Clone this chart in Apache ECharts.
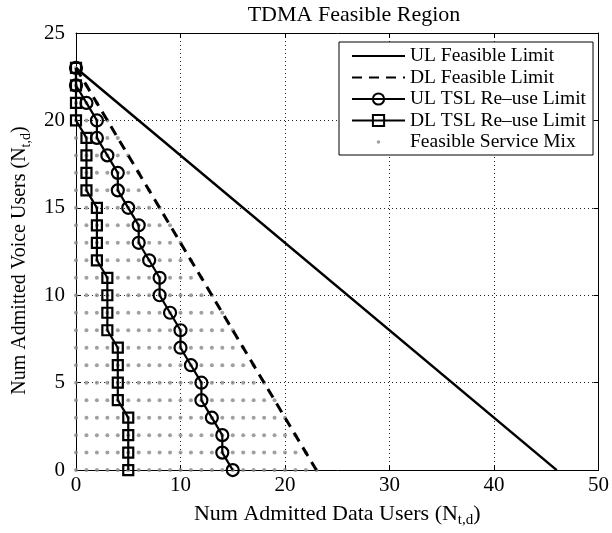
<!DOCTYPE html>
<html>
<head>
<meta charset="utf-8">
<script src="https://cdn.jsdelivr.net/npm/echarts@6/dist/echarts.min.js"></script>
<style>
  html, body { margin: 0; padding: 0; background: #fff; }
  #chart { width: 612px; height: 533px; }
</style>
</head>
<body>
<div id="chart"></div>
<script>
// Voice-user rows, top to bottom
const voiceUsers = [23, 22, 21, 20, 19, 18, 17, 16, 15, 14, 13, 12, 11, 10, 9, 8, 7, 6, 5, 4, 3, 2, 1, 0];
// Max data users per row under the UL / DL time-slot re-use limits
const ulTslDataUsers = [0, 0, 1, 2, 2, 3, 4, 4, 5, 6, 6, 7, 8, 8, 9, 10, 10, 11, 12, 12, 13, 14, 14, 15];
const dlTslDataUsers = [0, 0, 0, 0, 1, 1, 1, 1, 2, 2, 2, 2, 3, 3, 3, 3, 4, 4, 4, 4, 5, 5, 5, 5];
// Straight feasibility limits (end points)
const ulLimitData = [0, 46];
const ulLimitVoice = [23, 0];
const dlLimitData = [0, 23];
const dlLimitVoice = [23, 0];
// Feasible service mix: largest data-user count per voice row (voice = 0..23)
const mixVoiceRows = [0, 1, 2, 3, 4, 5, 6, 7, 8, 9, 10, 11, 12, 13, 14, 15, 16, 17, 18, 19, 20, 21, 22, 23];
const mixRowMaxData = [23, 22, 21, 20, 19, 18, 17, 16, 15, 14, 13, 12, 11, 10, 9, 8, 7, 6, 5, 4, 3, 2, 1, 0];
// Axis ticks
const xTicks = { min: 0, max: 50, step: 10 };
const yTicks = { min: 0, max: 25, step: 5 };

const FONT = "'Liberation Serif', 'Times New Roman', serif";

const pairs = (xs, ys) => xs.map((x, i) => [x, ys[i]]);
const mixPoints = [];
mixVoiceRows.forEach((v, i) => {
  for (let d = 0; d <= mixRowMaxData[i]; d++) mixPoints.push([d, v]);
});

const dotIcon = 'image://data:image/svg+xml;charset=utf-8,' + encodeURIComponent(
  '<svg xmlns="http://www.w3.org/2000/svg" width="53" height="14"><circle cx="26.5" cy="7" r="1.8" fill="#8a8a8a"/></svg>'
);

const richFor = (size) => ({
  t: { fontFamily: FONT, fontSize: size, color: '#000', verticalAlign: 'top', lineHeight: size + 3 },
  s: { fontFamily: FONT, fontSize: Math.round(size * 0.68), color: '#000', verticalAlign: 'bottom',
       lineHeight: Math.round(size * 0.72), padding: [Math.round(size * 0.55), 0, 0, 0] }
});

const gridLine = { show: true, lineStyle: { color: '#222', type: [1, 3], width: 1 } };
const boxLine = { show: true, onZero: false, lineStyle: { color: '#000', width: 1 } };
const tick = { show: true, inside: true, length: 5, lineStyle: { color: '#000', width: 1 } };
// plain line in the legend, no marker
const noMarker = { color: 'rgba(0,0,0,0)', borderWidth: 0 };

const chart = echarts.init(document.getElementById('chart'), null, { renderer: 'canvas' });
chart.setOption({
  animation: false,
  backgroundColor: '#fff',
  title: {
    text: 'TDMA Feasible Region',
    left: 349, top: -1, textAlign: 'center',
    textStyle: { fontFamily: FONT, fontSize: 22, fontWeight: 'normal', color: '#000' }
  },
  grid: { left: 76, right: 10, top: 33, bottom: 62, containLabel: false },
  xAxis: [{
    type: 'value', position: 'bottom',
    min: xTicks.min, max: xTicks.max, interval: xTicks.step,
    axisLine: boxLine, axisTick: tick, splitLine: gridLine,
    axisLabel: { color: '#000', fontFamily: FONT, fontSize: 21, margin: 5 },
    name: '{t|Num Admitted Data Users (N}{s|t,d}{t|)}',
    nameLocation: 'middle', nameGap: 31,
    nameTextStyle: { rich: richFor(22) }
  }, {
    type: 'value', position: 'top',
    min: xTicks.min, max: xTicks.max, interval: xTicks.step,
    axisLine: boxLine, axisTick: tick, splitLine: { show: false },
    axisLabel: { show: false }
  }],
  yAxis: [{
    type: 'value', position: 'left',
    min: yTicks.min, max: yTicks.max, interval: yTicks.step,
    axisLine: boxLine, axisTick: tick, splitLine: gridLine,
    axisLabel: { color: '#000', fontFamily: FONT, fontSize: 21, margin: 11 },
    name: '{t|Num Admitted Voice Users (N}{s|t,d}{t|)}',
    nameLocation: 'middle', nameGap: 39,
    nameTextStyle: { rich: richFor(20), padding: [0, 18, 0, 0] }
  }, {
    type: 'value', position: 'right',
    min: yTicks.min, max: yTicks.max, interval: yTicks.step,
    axisLine: boxLine, axisTick: tick, splitLine: { show: false },
    axisLabel: { show: false }
  }],
  legend: {
    orient: 'vertical', left: 339, top: 42,
    padding: [4, 7, 3, 12], itemGap: 1.5, itemWidth: 53, itemHeight: 14,
    backgroundColor: '#fff', borderColor: '#000', borderWidth: 1, borderRadius: 0,
    textStyle: { fontFamily: FONT, fontSize: 19.5, color: '#000' },
    data: [
      { name: 'UL Feasible Limit', itemStyle: noMarker },
      { name: 'DL Feasible Limit', itemStyle: noMarker },
      { name: 'UL TSL Re\u2013use Limit' },
      { name: 'DL TSL Re\u2013use Limit' },
      { name: 'Feasible Service Mix', icon: dotIcon }
    ]
  },
  series: [
    {
      name: 'Feasible Service Mix', type: 'scatter', z: 1,
      data: mixPoints, symbol: 'circle', symbolSize: 4,
      itemStyle: { color: '#888' }
    },
    {
      name: 'UL Feasible Limit', type: 'line', z: 3,
      data: pairs(ulLimitData, ulLimitVoice), symbol: 'none',
      lineStyle: { color: '#000', width: 2.5 }
    },
    {
      name: 'DL Feasible Limit', type: 'line', z: 3,
      data: pairs(dlLimitData, dlLimitVoice), symbol: 'none',
      lineStyle: { color: '#000', width: 3, type: [10, 7] }
    },
    {
      name: 'UL TSL Re\u2013use Limit', type: 'line', z: 4,
      data: pairs(ulTslDataUsers, voiceUsers),
      symbol: 'circle', symbolSize: 12, showAllSymbol: true,
      lineStyle: { color: '#000', width: 2.2 },
      itemStyle: { color: 'rgba(255,255,255,0)', borderColor: '#000', borderWidth: 2.2 }
    },
    {
      name: 'DL TSL Re\u2013use Limit', type: 'line', z: 4,
      data: pairs(dlTslDataUsers, voiceUsers),
      symbol: 'rect', symbolSize: 10, showAllSymbol: true,
      lineStyle: { color: '#000', width: 2.2 },
      itemStyle: { color: 'rgba(255,255,255,0)', borderColor: '#000', borderWidth: 2.2 }
    }
  ]
});
</script>
</body>
</html>
